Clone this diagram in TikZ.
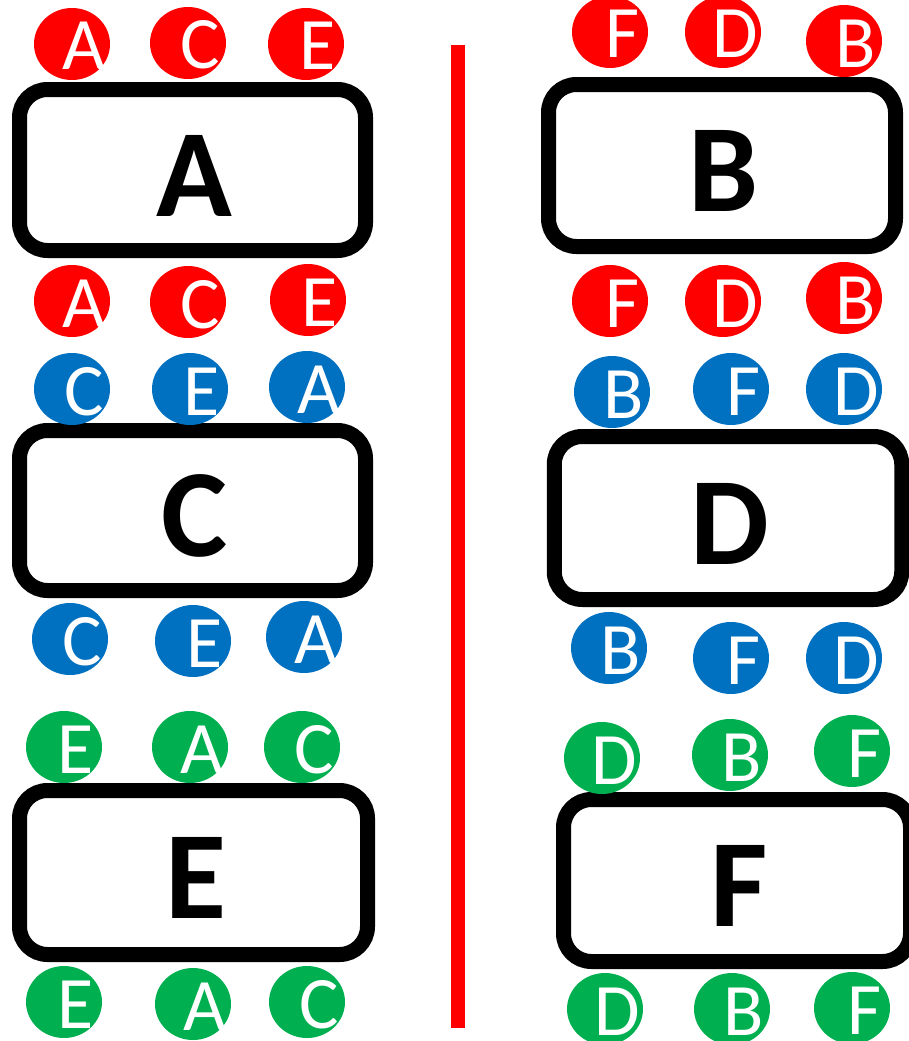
\documentclass[tikz,border=0pt]{standalone}
\usepackage{fontspec}
\setmainfont{Carlito}
\usetikzlibrary{shapes.geometric}
\definecolor{tred}{HTML}{FF0000}
\definecolor{tblue}{HTML}{0070C0}
\definecolor{tgreen}{HTML}{00B050}
\tikzset{
  tokshape/.style={ellipse, draw=none, minimum width=76pt, minimum height=72pt, inner sep=0pt},
  toklbl/.style={text=white, font=\fontsize{74}{74}\selectfont, inner sep=0pt, anchor=base},
  bigbox/.style={draw=black, line width=15pt, rounded corners=28pt, fill=white,
    minimum width=347pt, minimum height=162pt, inner sep=0pt},
  biglbl/.style={font=\fontsize{125}{125}\selectfont\bfseries, inner sep=0pt, anchor=base},
  divider/.style={draw=tred, line width=14pt}
}
\newcommand\tok[5]{%
  \node[tokshape, fill=#4] (#1) at (#2,#3) {};
  \node[toklbl] (#1t) at ([xshift=12pt,yshift=-26pt]#1.center) {#5};}
\newcommand\bbox[6]{%
  \node[bigbox, minimum width=#4pt, minimum height=#5pt] (#1) at (#2,#3) {};
  \node[biglbl] (#1t) at ([xshift=2pt,yshift=-46pt]#1.center) {#6};}
\begin{document}
\begin{tikzpicture}[x=1pt,y=-1pt]
\useasboundingbox (0,0) rectangle (909,1041);
\clip (0,0) rectangle (909,1041);
% divider
\coordinate (ltop) at (458,45);
\coordinate (lbot) at (458,1028);
\draw[divider] (ltop) -- (lbot);
% boxes
\bbox{bA}{192.5}{170}{346}{161}{A}
\bbox{bC}{192.5}{510.5}{346}{160}{C}
\bbox{bE}{193.5}{872.5}{348}{164}{E}
\bbox{bB}{722}{165.5}{347}{162}{B}
\bbox{bD}{728}{518}{347.5}{163}{D}
\bbox{bF}{737}{880.5}{347}{162}{F}
% left column tokens
\tok{l1a}{72}{44}{tred}{A}
\tok{l1b}{188}{43}{tred}{C}
\tok{l1c}{306}{44}{tred}{E}
\tok{l2a}{72}{301}{tred}{A}
\tok{l2b}{188}{302}{tred}{C}
\tok{l2c}{308}{300}{tred}{E}
\tok{l3a}{72}{389}{tblue}{C}
\tok{l3b}{190}{389}{tblue}{E}
\tok{l3c}{307}{387}{tblue}{A}
\tok{l4a}{70}{639}{tblue}{C}
\tok{l4b}{193}{641}{tblue}{E}
\tok{l4c}{304}{637}{tblue}{A}
\tok{l5a}{64}{747}{tgreen}{E}
\tok{l5b}{190}{747}{tgreen}{A}
\tok{l5c}{302}{747}{tgreen}{C}
\tok{l6a}{64}{1002}{tgreen}{E}
\tok{l6b}{193}{1004}{tgreen}{A}
\tok{l6c}{307}{1002}{tgreen}{C}
% right column tokens
\tok{r1a}{610}{32}{tred}{F}
\tok{r1b}{723}{32}{tred}{D}
\tok{r1c}{844}{41}{tred}{B}
\tok{r2a}{610}{301}{tred}{F}
\tok{r2b}{723}{301}{tred}{D}
\tok{r2c}{844}{298}{tred}{B}
\tok{r3a}{612}{392}{tblue}{B}
\tok{r3b}{731}{389}{tblue}{F}
\tok{r3c}{844}{389}{tblue}{D}
\tok{r4a}{609}{648}{tblue}{B}
\tok{r4b}{731}{658}{tblue}{F}
\tok{r4c}{844}{658}{tblue}{D}
\tok{r5a}{602}{758}{tgreen}{D}
\tok{r5b}{730}{755}{tgreen}{B}
\tok{r5c}{852}{751}{tgreen}{F}
\tok{r6a}{605}{1009}{tgreen}{D}
\tok{r6b}{732}{1009}{tgreen}{B}
\tok{r6c}{852}{1008}{tgreen}{F}
\end{tikzpicture}
\end{document}
